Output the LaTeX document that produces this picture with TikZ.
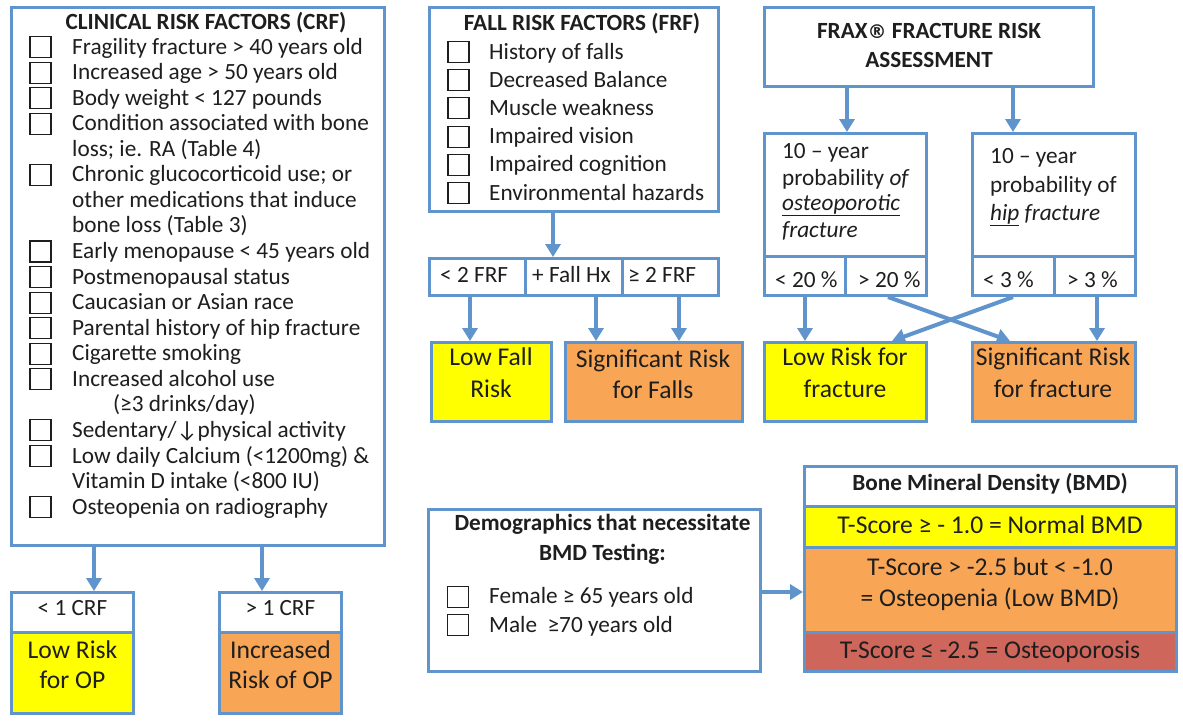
\documentclass[tikz,border=0pt]{standalone}
\usepackage{fontspec}
\setmainfont{Carlito}
\newfontfamily\dvs{DejaVu Sans}
\usetikzlibrary{arrows.meta,calc}
\definecolor{bl}{RGB}{95,148,204}
\definecolor{yel}{RGB}{255,255,0}
\definecolor{org}{RGB}{248,166,86}
\definecolor{rd}{RGB}{206,102,92}
\definecolor{ink}{RGB}{30,30,30}
\newcommand\fitem{\fontsize{23.25}{27}\selectfont}
\newcommand\fbig{\fontsize{25.6}{29}\selectfont}
\newcommand\ftitle{\fontsize{23.2}{27}\selectfont\bfseries}
\newcommand\regmark{{\dvs\bfseries\fontsize{19}{20}\selectfont ®}}
\begin{document}
\begin{tikzpicture}[x=1pt,y=-1pt,
 box/.style={draw=bl,line width=3pt,fill=white,inner sep=0pt},
 cb/.style={draw=ink,line width=1.1pt,minimum width=21pt,minimum height=21pt,inner sep=0pt},
 tl/.style={anchor=base west,inner sep=0pt,text=ink,font=\fitem},
 tcen/.style={anchor=base,inner sep=0pt,text=ink,font=\fitem},
 tbig/.style={anchor=base,inner sep=0pt,text=ink,font=\fbig},
 ttl/.style={anchor=base,inner sep=0pt,text=ink,font=\ftitle},
 arr/.style={draw=bl,line width=4pt,-{Triangle[width=15pt,length=13pt]}}]
\fill[white] (0,0) rectangle (1183,721);
\useasboundingbox (0,0) rectangle (1183,721);

% ---------- CRF ----------
\node[box,minimum width=373,minimum height=538] (crf) at (198,276.5) {};
\node[ttl] (crft) at (206,29) {CLINICAL RISK FACTORS (CRF)};
\node[tl] (c0) at (72,54) {Fragility fracture > 40 years old};
\node[tl] (c1) at (72,79.6) {Increased age > 50 years old};
\node[tl] (c2) at (72,105.1) {Body weight < 127 pounds};
\node[tl] (c3) at (72,130.7) {Condition associated with bone};
\node[tl] (c4) at (72,156.2) {loss; ie. RA (Table 4)};
\node[tl] (c5) at (72,181.8) {Chronic glucocorticoid use; or};
\node[tl] (c6) at (72,207.4) {other medications that induce};
\node[tl] (c7) at (72,232.9) {bone loss (Table 3)};
\node[tl] (c8) at (72,258.5) {Early menopause < 45 years old};
\node[tl] (c9) at (72,284.0) {Postmenopausal status};
\node[tl] (c10) at (72,309.6) {Caucasian or Asian race};
\node[tl] (c11) at (72,335.2) {Parental history of hip fracture};
\node[tl] (c12) at (72,360.7) {Cigarette smoking};
\node[tl] (c13) at (72,386.3) {Increased alcohol use};
\node[tl] (c14) at (113,411.8) {(≥3 drinks/day)};
\node[tl] (c15) at (72,437.4) {Sedentary/↓physical activity};
\node[tl] (c16) at (72,463.0) {Low daily Calcium (<1200mg) \&};
\node[tl] (c17) at (72,488.5) {Vitamin D intake (<800 IU)};
\node[tl] (c18) at (72,514.1) {Osteopenia on radiography};
\foreach \y [count=\k] in {54,79.6,105.1,130.7,181.8,258.5,284.0,309.6,335.2,360.7,386.3,437.4,463.0,514.1}
  \node[cb] (crfb\k) at (40.5,\y-7) {};

\node[box,minimum width=122,minimum height=39.5] (lowcrfh) at (72.5,612.25) {};
\node[box,fill=yel,minimum width=122,minimum height=81.5] (lowcrf) at (72.5,672.75) {};
\node[box,minimum width=122,minimum height=39.5] (hicrfh) at (280.5,612.25) {};
\node[box,fill=org,minimum width=122,minimum height=81.5] (hicrf) at (280.5,672.75) {};
\node[tcen] (lowcrfht) at (72.5,615) {< 1 CRF};
\node[tbig] (lowcrft1) at (72.5,658) {Low Risk};
\node[tbig] (lowcrft2) at (72.5,688) {for OP};
\node[tcen] (hicrfht) at (280.5,615) {> 1 CRF};
\node[tbig] (hicrft1) at (280.5,658) {Increased};
\node[tbig] (hicrft2) at (280.5,688) {Risk of OP};
\coordinate (xa) at (94,0);
\coordinate (xb) at (262,0);
\draw[arr] (crf.south -| xa) -- (lowcrfh.north -| xa);
\draw[arr] (crf.south -| xb) -- (hicrfh.north -| xb);

% ---------- FRF ----------
\node[box,minimum width=289,minimum height=204] (frf) at (574,109.5) {};
\node[ttl] (frft) at (582,30) {FALL RISK FACTORS (FRF)};
\node[tl] (f0) at (489,59) {History of falls};
\node[tl] (f1) at (489,87.2) {Decreased Balance};
\node[tl] (f2) at (489,115.4) {Muscle weakness};
\node[tl] (f3) at (489,143.6) {Impaired vision};
\node[tl] (f4) at (489,171.8) {Impaired cognition};
\node[tl] (f5) at (489,200) {Environmental hazards};
\foreach \y [count=\k] in {59,87.2,115.4,143.6,171.8,200}
  \node[cb] (frfb\k) at (458.5,\y-7) {};
\node[box,minimum width=95.5,minimum height=37] (fc1) at (477.25,277) {};
\node[box,minimum width=97,minimum height=37] (fc2) at (573.5,277) {};
\node[box,minimum width=96.5,minimum height=37] (fc3) at (670.25,277) {};
\node[tl] (fc1t) at (440,282) {< 2 FRF};
\node[tl] (fc2t) at (532,282) {+ Fall Hx};
\node[tl] (fc3t) at (628,282) {≥ 2 FRF};
\node[box,fill=yel,minimum width=120,minimum height=79] (lowfall) at (491.5,382) {};
\node[box,fill=org,minimum width=177,minimum height=79] (sigfall) at (654,382) {};
\node[tbig] (lowfallt1) at (491,365) {Low Fall};
\node[tbig] (lowfallt2) at (491,397) {Risk};
\node[tbig] (sigfallt1) at (653,367) {Significant Risk};
\node[tbig] (sigfallt2) at (653,398) {for Falls};
\coordinate (xf) at (553,0);
\coordinate (xf1) at (470,0);
\coordinate (xf2) at (596,0);
\coordinate (xf3) at (679,0);
\draw[arr] (frf.south -| xf) -- (fc2.north -| xf);
\draw[arr] (fc1.south -| xf1) -- (lowfall.north -| xf1);
\draw[arr] (fc2.south -| xf2) -- (sigfall.north -| xf2);
\draw[arr] (fc3.south -| xf3) -- (sigfall.north -| xf3);

% ---------- FRAX ----------
\node[box,minimum width=329,minimum height=79] (frax) at (929,47) {};
\node[ttl] (fraxt1) at (929,38) {FRAX\regmark\ FRACTURE RISK};
\node[ttl] (fraxt2) at (929,67) {ASSESSMENT};
\node[box,minimum width=162,minimum height=122.5] (pl) at (845.5,194.75) {};
\node[box,minimum width=163,minimum height=122.5] (pr) at (1054,194.75) {};
\node[box,minimum width=80.5,minimum height=39.5] (pl1) at (804.75,275.75) {};
\node[box,minimum width=81.5,minimum height=39.5] (pl2) at (885.75,275.75) {};
\node[box,minimum width=81.5,minimum height=39.5] (pr1) at (1013.25,275.75) {};
\node[box,minimum width=81.5,minimum height=39.5] (pr2) at (1094.75,275.75) {};
\node[tl] (plt1) at (782,158) {10 – year};
\node[tl] (plt2) at (782,185) {probability \textit{of}};
\node[tl] (plt3) at (782,210) {\textit{\underline{osteoporotic}}};
\node[tl] (plt4) at (782,237) {\textit{fracture}};
\node[tl] (prt1) at (990,163) {10 – year};
\node[tl] (prt2) at (990,192) {probability of};
\node[tl] (prt3) at (990,220) {\textit{\underline{hip}} \textit{fracture}};
\node[tl] (pl1t) at (775,287) {< 20 \%};
\node[tl] (pl2t) at (858,287) {> 20 \%};
\node[tl] (pr1t) at (983,287) {< 3 \%};
\node[tl] (pr2t) at (1067,287) {> 3 \%};
\node[box,fill=yel,minimum width=162,minimum height=79] (lowfr) at (845.5,382) {};
\node[box,fill=org,minimum width=163,minimum height=79] (sigfr) at (1054,382) {};
\node[tbig] (lowfrt1) at (845,365) {Low Risk for};
\node[tbig] (lowfrt2) at (845,397) {fracture};
\node[tbig] (sigfrt1) at (1053,365) {Significant Risk};
\node[tbig] (sigfrt2) at (1053,397) {for fracture};
\coordinate (xr1) at (847,0);
\coordinate (xr2) at (1013,0);
\coordinate (xr3) at (805,0);
\coordinate (xr4) at (1097,0);
\coordinate (xr5) at (888,0);
\coordinate (xr6) at (1010,0);
\coordinate (xr7) at (892,0);
\draw[arr] (frax.south -| xr1) -- (pl.north -| xr1);
\draw[arr] (frax.south -| xr2) -- (pr.north -| xr2);
\draw[arr] (pl1.south -| xr3) -- (lowfr.north -| xr3);
\draw[arr] (pr2.south -| xr4) -- (sigfr.north -| xr4);
\draw[arr] (pl2.south -| xr5) -- (sigfr.north -| xr6);
\draw[arr] (pr1.south -| xr2) -- (lowfr.north -| xr7);

% ---------- Demographics ----------
\node[box,minimum width=332,minimum height=162] (demo) at (594.5,590.5) {};
\node[ttl] (demot1) at (602.5,530) {Demographics that necessitate};
\node[ttl] (demot2) at (602.5,560) {BMD Testing:};
\node[cb] (demob1) at (458,597) {};
\node[cb] (demob2) at (458,625) {};
\node[tl] (demoi1) at (489,603) {Female ≥ 65 years old};
\node[tl] (demoi2) at (489,632) {Male \ ≥70 years old};

% ---------- BMD ----------
\node[box,minimum width=372,minimum height=39.5] (bmdh) at (990.5,486.25) {};
\node[box,fill=yel,minimum width=372,minimum height=41] (bmd1) at (990.5,526.5) {};
\node[box,fill=org,minimum width=372,minimum height=85] (bmd2) at (990.5,589.5) {};
\node[box,fill=rd,minimum width=372,minimum height=39.5] (bmd3) at (990.5,651.75) {};
\node[ttl] (bmdht) at (990,490) {Bone Mineral Density (BMD)};
\node[tbig] (bmd1t) at (990,533) {T-Score ≥ - 1.0 = Normal BMD};
\node[tbig] (bmd2t1) at (990,575) {T-Score > -2.5 but < -1.0};
\node[tbig] (bmd2t2) at (990,606) {= Osteopenia (Low BMD)};
\node[tbig] (bmd3t) at (990,658) {T-Score ≤ -2.5 = Osteoporosis};
\coordinate (ya) at (0,592);
\draw[arr] (demo.east |- ya) -- (bmd2.west |- ya);
\end{tikzpicture}
\end{document}
